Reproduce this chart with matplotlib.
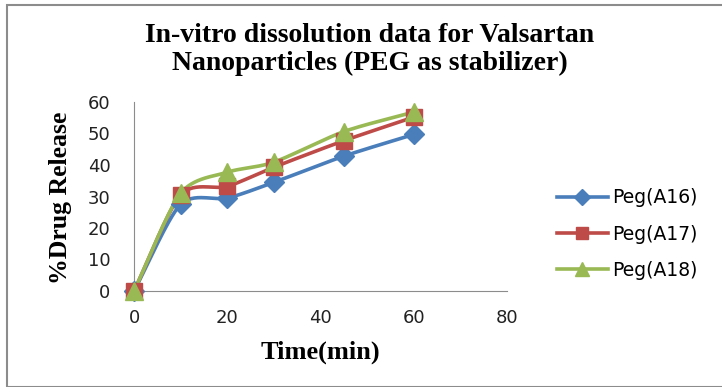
import numpy as np
import matplotlib
matplotlib.use("Agg")
import matplotlib.pyplot as plt
from matplotlib.patches import Rectangle

time_min = [0, 10, 20, 30, 45, 60]
peg_a16 = [0, 27.5, 29.5, 34.5, 42.8, 49.7]
peg_a17 = [0, 30.5, 33.2, 39.3, 47.7, 55.2]
peg_a18 = [0, 31.0, 37.7, 40.9, 50.6, 56.8]
series_names = ["Peg(A16)", "Peg(A17)", "Peg(A18)"]
x_ticks = [0, 20, 40, 60, 80]
y_ticks = [0, 10, 20, 30, 40, 50, 60]


def smooth(x, y, n=30):
    # Catmull-Rom style curve through the data points (Excel "smoothed line")
    x = np.asarray(x, float); y = np.asarray(y, float)
    px = np.concatenate([[2 * x[0] - x[1]], x, [2 * x[-1] - x[-2]]])
    py = np.concatenate([[2 * y[0] - y[1]], y, [2 * y[-1] - y[-2]]])
    xs, ys = [], []
    t = np.linspace(0, 1, n)
    for i in range(1, len(px) - 2):
        p0, p1, p2, p3 = (np.array([px[j], py[j]]) for j in range(i - 1, i + 3))
        m1 = (p2 - p0) / 2 * 0.8
        m2 = (p3 - p1) / 2 * 0.8
        h00 = 2 * t**3 - 3 * t**2 + 1
        h10 = t**3 - 2 * t**2 + t
        h01 = -2 * t**3 + 3 * t**2
        h11 = t**3 - t**2
        pts = np.outer(h00, p1) + np.outer(h10, m1) + np.outer(h01, p2) + np.outer(h11, m2)
        xs.extend(pts[:, 0]); ys.extend(pts[:, 1])
    return np.array(xs), np.array(ys)


fig = plt.figure(figsize=(7.22, 3.87), dpi=100)
fig.patches.append(Rectangle((7 / 722, 0), 1, 1 - 5 / 387, transform=fig.transFigure,
                             fill=False, edgecolor="#8c8c8c", linewidth=1.5))

ax = fig.add_axes([134 / 722, 1 - 291 / 387, (507 - 134) / 722, (291 - 102) / 387])

colors = ["#4A7EBB", "#BE4B48", "#98B954"]
markers = ["D", "s", "^"]
msizes = [10, 11, 13]
for name, vals, c, m, ms in zip(series_names, [peg_a16, peg_a17, peg_a18], colors, markers, msizes):
    sx, sy = smooth(time_min, vals)
    ax.plot(sx, sy, color=c, linewidth=2.6, zorder=2, clip_on=False)
    ax.plot(time_min, vals, linestyle="none", marker=m, markersize=ms, color=c,
            markeredgecolor=c, zorder=3, clip_on=False)
    ax.plot([], [], color=c, linewidth=2.6, marker=m, markersize=ms * 0.8, label=name)

ax.set_xlim(0, 80)
ax.set_ylim(0, 60)
ax.set_xticks(x_ticks)
ax.set_yticks(y_ticks)
ax.tick_params(axis="y", length=0, labelsize=13, pad=17)
ax.tick_params(axis="x", length=0, labelsize=13, pad=13)
for lbl in ax.get_xticklabels() + ax.get_yticklabels():
    lbl.set_family("DejaVu Sans")
    lbl.set_color("#222222")
ax.spines["top"].set_visible(False)
ax.spines["right"].set_visible(False)
ax.spines["left"].set_color("#8c8c8c")
ax.spines["bottom"].set_color("#8c8c8c")

fig.text(370 / 722, 1 - 35 / 387, "In-vitro dissolution data for Valsartan",
         ha="center", va="center", fontsize=20, fontweight="bold", family="Liberation Serif")
fig.text(370 / 722, 1 - 63 / 387, "Nanoparticles (PEG as stabilizer)",
         ha="center", va="center", fontsize=20, fontweight="bold", family="Liberation Serif")
fig.text(320 / 722, 1 - 352 / 387, "Time(min)", ha="center", va="center", fontsize=19,
         fontweight="bold", family="Liberation Serif")
fig.text(60 / 722, 1 - 198 / 387, "%Drug Release", ha="center", va="center", rotation=90,
         fontsize=18.5, fontweight="bold", family="Liberation Serif")

leg = fig.legend(loc="center left", bbox_to_anchor=(540 / 722, 1 - 234 / 387), frameon=False,
                 prop={"family": "DejaVu Sans", "size": 13.5}, handlelength=2.7, labelspacing=0.92,
                 handletextpad=0.25)

fig.savefig("out.png", dpi=100)
